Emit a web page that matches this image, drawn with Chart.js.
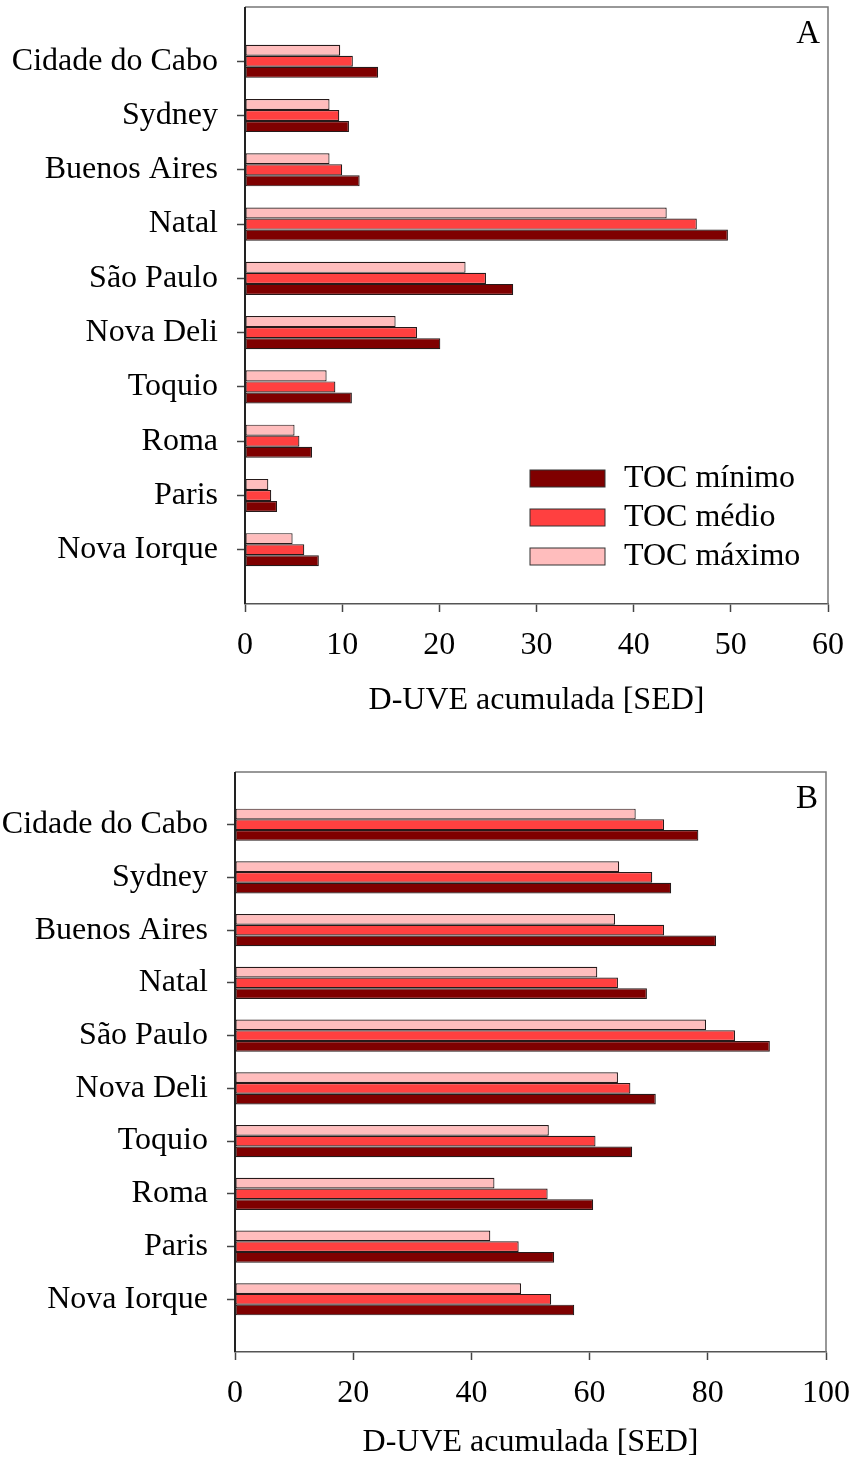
<!DOCTYPE html>
<html>
<head>
<meta charset="utf-8">
<script src="https://cdn.jsdelivr.net/npm/chart.js@4.4.0/dist/chart.umd.min.js"></script>
<style>
  body { margin: 0; background: #fff; }
  .box { position: absolute; left: 0; width: 851px; }
  #boxA { top: 0; height: 722px; }
  #boxB { top: 740px; height: 724px; }
</style>
</head>
<body>
<div class="box" id="boxA"><canvas id="chartA"></canvas></div>
<div class="box" id="boxB"><canvas id="chartB"></canvas></div>
<script>
// Cities, top to bottom
var cities = ['Cidade do Cabo', 'Sydney', 'Buenos Aires', 'Natal', 'São Paulo',
              'Nova Deli', 'Toquio', 'Roma', 'Paris', 'Nova Iorque'];
var seriesNames = ['TOC mínimo', 'TOC médio', 'TOC máximo'];

// Panel A values (SED)
var aMin = [13.7, 10.7, 11.8, 49.7, 27.6, 20.1, 11.0, 6.9, 3.3, 7.6];
var aMed = [11.1, 9.7, 10.0, 46.5, 24.8, 17.7, 9.3, 5.6, 2.7, 6.1];
var aMax = [9.8, 8.7, 8.7, 43.4, 22.7, 15.5, 8.4, 5.1, 2.4, 4.9];

// Panel B values (SED)
var bMin = [78.4, 73.8, 81.4, 69.7, 90.5, 71.2, 67.2, 60.6, 54.0, 57.4];
var bMed = [72.6, 70.6, 72.6, 64.8, 84.6, 66.9, 61.0, 52.9, 48.0, 53.5];
var bMax = [67.8, 65.0, 64.3, 61.3, 79.7, 64.8, 53.1, 43.9, 43.2, 48.4];

var ticksA = [0, 10, 20, 30, 40, 50, 60];
var ticksB = [0, 20, 40, 60, 80, 100];

var colMin = '#7f0000', colMed = '#ff4040', colMax = '#ffbdbd';
var FONT = "'Liberation Serif', 'Times New Roman', serif";
var FSIZE = 32;

// pad with an empty slot on both ends so the cities sit one step in from the frame
function pad(arr) { return [null].concat(arr, [null]); }
var labels = [''].concat(cities, ['']);

// frame, panel letter and legend
var framePlugin = {
    id: 'frame',
    afterDraw: function(chart, args, opts) {
        var ctx = chart.ctx, a = chart.chartArea;
        ctx.save();
        ctx.strokeStyle = '#777';
        ctx.lineWidth = 1.5;
        ctx.beginPath();
        ctx.moveTo(a.left, a.top);
        ctx.lineTo(a.right, a.top);
        ctx.lineTo(a.right, a.bottom);
        ctx.stroke();
        ctx.strokeStyle = '#222';
        ctx.lineWidth = 2;
        ctx.beginPath();
        ctx.moveTo(a.left, a.top);
        ctx.lineTo(a.left, a.bottom);
        ctx.stroke();

        ctx.fillStyle = '#000';
        ctx.font = '33px ' + FONT;
        ctx.textAlign = 'right';
        ctx.textBaseline = 'middle';
        ctx.fillText(opts.letter, a.right - 8, a.top + 27);

        if (opts.legend) {
            var order = [2, 1, 0]; // minimo, medio, maximo
            ctx.font = FSIZE + 'px ' + FONT;
            ctx.textAlign = 'left';
            order.forEach(function(di, i) {
                var ds = chart.data.datasets[di];
                var y = a.top + 471 + i * 39;
                ctx.fillStyle = ds.backgroundColor;
                ctx.fillRect(a.left + 285, y - 8, 75, 17);
                ctx.strokeStyle = '#333';
                ctx.lineWidth = 1;
                ctx.strokeRect(a.left + 285, y - 8, 75, 17);
                ctx.fillStyle = '#000';
                ctx.fillText(ds.label, a.left + 379, y + 1);
            });
        }
        ctx.restore();
    }
};

function makeChart(id, vMin, vMed, vMax, tickVals, letter, withLegend, yWidth, padTop, padRight, xHeight) {
    var ctx = document.getElementById(id).getContext('2d');
    return new Chart(ctx, {
        type: 'bar',
        data: {
            labels: labels,
            datasets: [
                { label: seriesNames[2], data: pad(vMax), backgroundColor: colMax },
                { label: seriesNames[1], data: pad(vMed), backgroundColor: colMed },
                { label: seriesNames[0], data: pad(vMin), backgroundColor: colMin }
            ]
        },
        options: {
            indexAxis: 'y',
            responsive: true,
            maintainAspectRatio: false,
            animation: false,
            datasets: {
                bar: {
                    borderColor: '#261a1a',
                    borderWidth: 1.2,
                    borderSkipped: false,
                    barPercentage: 1.0,
                    categoryPercentage: 0.61
                }
            },
            layout: { padding: { top: padTop, right: padRight, left: 0, bottom: 0 } },
            plugins: {
                legend: { display: false },
                tooltip: { enabled: false },
                frame: { letter: letter, legend: withLegend }
            },
            scales: {
                x: {
                    type: 'linear',
                    min: tickVals[0],
                    max: tickVals[tickVals.length - 1],
                    afterBuildTicks: function(scale) {
                        scale.ticks = tickVals.map(function(v) { return { value: v }; });
                    },
                    afterFit: function(scale) {
                        scale.height = xHeight;
                        scale.paddingLeft = 0;
                        scale.paddingRight = 0;
                    },
                    grid: { drawOnChartArea: false, drawTicks: true, tickLength: 8, tickColor: '#444', tickWidth: 1.5 },
                    border: { display: true, color: '#555', width: 1.5 },
                    ticks: { color: '#000', padding: 14, font: { family: FONT, size: FSIZE }, maxRotation: 0 },
                    title: {
                        display: true,
                        text: 'D-UVE acumulada [SED]',
                        color: '#000',
                        font: { family: FONT, size: FSIZE },
                        padding: { top: 0, bottom: 2 }
                    }
                },
                y: {
                    type: 'category',
                    offset: false,
                    afterFit: function(scale) {
                        scale.width = yWidth;
                        scale.paddingTop = 0;
                        scale.paddingBottom = 0;
                    },
                    grid: {
                        offset: false,
                        drawOnChartArea: false,
                        drawTicks: true,
                        tickLength: 8,
                        tickWidth: 1.5,
                        tickColor: function(c) {
                            return (c.index === 0 || c.index === labels.length - 1) ? 'rgba(0,0,0,0)' : '#444';
                        }
                    },
                    border: { display: false },
                    ticks: { color: '#000', padding: 19, autoSkip: false, font: { family: FONT, size: FSIZE } }
                }
            }
        },
        plugins: [framePlugin]
    });
}

makeChart('chartA', aMin, aMed, aMax, ticksA, 'A', true, 245, 7, 23, 118);
makeChart('chartB', bMin, bMed, bMax, ticksB, 'B', false, 235, 32, 25, 112);
</script>
</body>
</html>
